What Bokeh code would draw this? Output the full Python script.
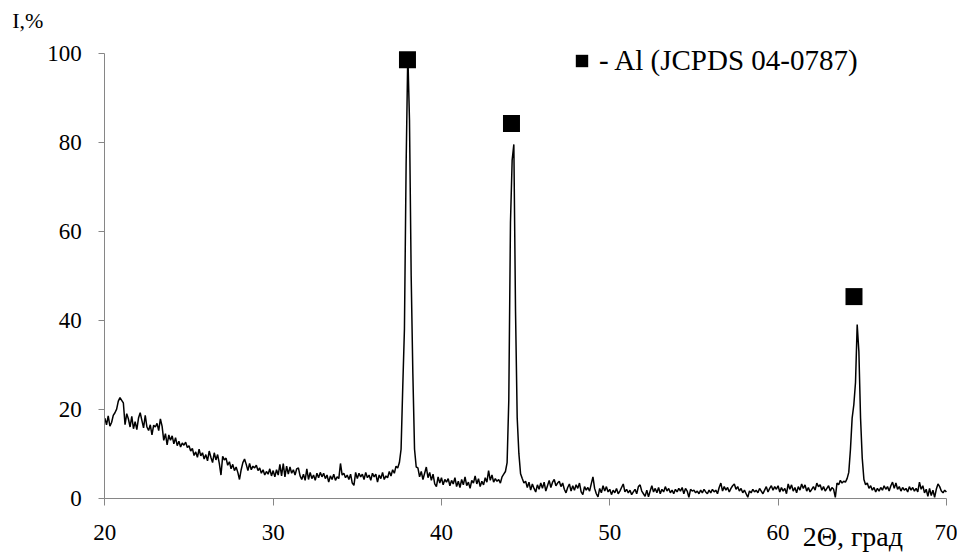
from bokeh.plotting import figure
from bokeh.models import Range1d, Label, Legend, LegendItem, FixedTicker, LinearAxis
from bokeh.embed import file_html
from bokeh.resources import INLINE

# ---- data ----
TWO_THETA_START = 20.0   # first 2Theta of the scan, degrees
TWO_THETA_STEP = 0.1     # scan step, degrees

intensity = [
    18.0, 16.5, 18.5, 16.2, 17.0, 18.6, 19.2, 20.0, 21.8, 22.6,   # 20
    22.0, 21.4, 16.5, 19.0, 17.8, 16.0, 18.4, 15.6, 17.2, 15.4,   # 21
    18.0, 19.2, 17.5, 15.8, 18.6, 16.0, 15.2, 16.5, 14.2, 16.4,   # 22
    16.0, 16.8, 15.2, 17.8, 16.2, 13.0, 14.5, 12.0, 14.2, 13.0,   # 23
    14.0, 12.2, 13.6, 11.8, 12.8, 11.5, 12.4, 11.9, 12.6, 11.4,   # 24
    11.8, 10.6, 11.2, 9.6, 10.4, 9.2, 11.0, 9.5, 10.2, 8.8,       # 25
    9.8, 8.4, 10.6, 9.2, 8.0, 10.2, 8.6, 9.8, 7.8, 5.2,           # 26
    9.4, 8.6, 9.0, 7.4, 8.2, 6.6, 7.6, 6.2, 7.0, 5.8,             # 27
    4.2, 6.4, 8.0, 8.8, 7.6, 6.2, 7.8, 6.4, 7.2, 6.8,             # 28
    7.4, 6.2, 6.8, 5.6, 6.4, 5.2, 6.0, 5.4, 6.6, 5.0,             # 29
    6.2, 4.8, 6.4, 5.2, 7.6, 5.0, 7.8, 4.8, 7.2, 5.4,             # 30
    7.0, 5.6, 6.4, 5.2, 6.6, 6.8, 5.0, 4.2, 5.4, 4.0,             # 31
    6.6, 4.2, 5.8, 4.4, 5.2, 4.0, 5.6, 4.6, 5.8, 4.8,             # 32
    5.6, 4.4, 5.2, 3.6, 5.0, 4.2, 5.4, 4.0, 4.8, 4.4,             # 33
    7.8, 5.2, 5.6, 4.6, 5.2, 4.2, 5.4, 3.4, 2.9, 5.8,             # 34
    4.4, 5.6, 4.8, 5.4, 4.2, 5.8, 4.6, 5.2, 4.0, 5.6,             # 35
    4.8, 5.4, 3.6, 5.2, 4.4, 5.8, 4.2, 5.0, 4.6, 6.0,             # 36
    5.0, 6.4, 5.6, 7.2, 6.8, 8.0, 11.0, 25.0, 38.0, 75.0,         # 37
    100.0, 85.0, 50.0, 28.0, 11.0, 7.0, 6.8, 4.8, 6.0, 4.2,       # 38
    5.6, 7.0, 4.6, 5.8, 4.0, 5.4, 3.2, 2.6, 4.8, 3.4,             # 39
    4.6, 3.0, 4.2, 3.6, 4.4, 2.8, 4.0, 3.2, 4.6, 2.6,             # 40
    3.8, 2.4, 4.2, 3.0, 4.8, 2.8, 3.6, 2.2, 4.0, 3.4,             # 41
    5.0, 3.2, 4.4, 2.6, 3.8, 3.0, 4.6, 3.6, 6.2, 4.0,             # 42
    5.2, 3.6, 4.4, 3.8, 4.2, 3.4, 4.8, 5.4, 6.0, 8.0,             # 43
    22.0, 62.0, 76.0, 79.5, 42.0, 18.0, 10.0, 5.5, 4.4, 3.4,      # 44
    3.8, 2.4, 3.6, 1.8, 3.2, 2.2, 1.4, 3.0, 2.0, 3.4,             # 45
    2.2, 3.6, 1.6, 2.8, 4.0, 2.4, 3.6, 4.2, 2.8, 3.4,             # 46
    3.8, 2.6, 3.4, 2.0, 1.2, 2.4, 3.2, 1.6, 2.8, 1.8,             # 47
    3.0, 2.2, 3.4, 1.4, 0.8, 2.6, 1.8, 2.4, 1.6, 3.2,             # 48
    4.8, 2.2, 1.0, 0.3, 2.2, 1.2, 2.8, 1.6, 2.6, 1.4,             # 49
    2.0, 0.8, 1.8, 1.2, 2.2, 1.0, 1.6, 2.4, 3.2, 1.4,             # 50
    2.0, 1.2, 1.8, 0.8, 1.4, 2.0, 1.0, 2.6, 3.0, 1.6,             # 51
    1.0, 0.4, 1.8, 0.3, 1.6, 2.8, 1.4, 2.2, 1.2, 2.4,             # 52
    1.0, 2.0, 1.4, 2.6, 1.6, 2.2, 1.2, 1.8, 1.0, 2.0,             # 53
    1.4, 2.2, 1.6, 2.4, 1.0, 2.2, 1.6, 0.2, 2.0, 1.6,             # 54
    1.8, 1.2, 1.6, 1.0, 1.8, 1.2, 2.0, 1.4, 1.0, 1.8,             # 55
    1.2, 2.0, 1.4, 1.8, 1.0, 2.4, 3.4, 1.6, 2.6, 1.8,             # 56
    2.4, 1.4, 2.2, 2.8, 3.2, 2.0, 2.6, 1.6, 2.2, 1.2,             # 57
    1.8, 1.0, 0.2, 1.6, 1.2, 2.0, 1.4, 1.8, 1.2, 2.2,             # 58
    1.6, 1.0, 1.8, 2.6, 1.4, 2.2, 2.8, 1.8, 2.6, 2.0,             # 59
    2.8, 1.4, 2.4, 1.6, 2.2, 1.0, 3.2, 2.0, 3.0, 1.6,             # 60
    2.4, 1.2, 2.6, 1.8, 3.2, 2.2, 3.0, 1.6, 2.4, 1.4,             # 61
    2.0, 2.6, 1.8, 3.4, 2.6, 3.0, 1.8, 2.6, 1.6, 2.2,             # 62
    2.8, 1.6, 2.4, 2.0, 0.2, 3.4, 3.0, 4.0, 3.4, 3.8,             # 63
    3.6, 4.4, 5.8, 11.0, 18.0, 21.0, 26.0, 39.0, 33.0, 18.0,      # 64
    9.0, 4.2, 3.0, 3.4, 2.2, 2.8, 1.8, 2.4, 1.4, 2.2,             # 65
    1.6, 2.4, 1.8, 2.8, 2.0, 2.6, 1.6, 2.8, 3.6, 2.2,             # 66
    3.4, 2.0, 2.6, 1.6, 2.4, 1.8, 2.2, 1.4, 2.6, 1.8,             # 67
    2.4, 1.6, 2.2, 1.4, 3.6, 2.0, 2.8, 1.2, 2.0, 0.4,             # 68
    2.2, 0.6, 1.8, 0.2, 2.0, 3.2, 2.6, 1.6, 1.2, 1.8,             # 69
    1.4,                                                          # 70
]
two_theta = [round(TWO_THETA_START + i * TWO_THETA_STEP, 1) for i in range(len(intensity))]

# Al reflection markers (JCPDS 04-0787)
al_two_theta = [37.98, 44.16, 64.51]
al_marker_i = [98.5, 84.2, 45.3]

x_ticks = [20, 30, 40, 50, 60, 70]
y_ticks = [0, 20, 40, 60, 80, 100]

legend_text = "- Al (JCPDS 04-0787)"
x_title = "2\u0398, град"
y_title = "I,%"

SERIF = "Liberation Serif"
AXIS_GREY = "#868686"

# The frame fills the whole canvas; the axes sit at fixed data locations
# so that the titles outside the data area can be drawn as plain labels.
p = figure(width=957, height=553, output_backend="svg", toolbar_location=None,
           x_range=Range1d(13.80, 70.66), y_range=Range1d(-12.43, 111.84),
           x_axis_location=None, y_axis_location=None,
           min_border=0, min_border_left=0, min_border_right=0,
           min_border_top=0, min_border_bottom=0)
p.outline_line_color = None
p.background_fill_color = "white"
p.border_fill_color = "white"
p.grid.visible = False
p.xgrid.visible = False
p.ygrid.visible = False

p.line(two_theta, intensity, line_color="black", line_width=1.5)
sq = p.scatter(al_two_theta, al_marker_i, marker="square", size=17,
               fill_color="black", line_color=None)

def style_axis(ax, ticks):
    ax.ticker = FixedTicker(ticks=ticks)
    ax.axis_line_color = AXIS_GREY
    ax.axis_line_width = 1
    ax.major_tick_line_color = AXIS_GREY
    ax.minor_tick_line_color = None
    ax.major_tick_in = 0
    ax.major_label_text_font = SERIF
    ax.major_label_text_font_size = "23px"
    ax.major_label_text_color = "black"

xaxis = LinearAxis(fixed_location=y_ticks[0], bounds=(x_ticks[0], x_ticks[-1]))
style_axis(xaxis, x_ticks)
xaxis.major_tick_out = 7
xaxis.major_label_standoff = 20
p.add_layout(xaxis, "below")

yaxis = LinearAxis(fixed_location=x_ticks[0], bounds=(y_ticks[0], y_ticks[-1]))
style_axis(yaxis, y_ticks)
yaxis.major_tick_out = 6
yaxis.major_label_standoff = 17
p.add_layout(yaxis, "left")

p.add_layout(Label(x=14.5, y=107.4, text=y_title, text_align="left",
                   text_baseline="alphabetic", text_font=SERIF,
                   text_font_size="22px", text_color="black"))
p.add_layout(Label(x=61.46, y=-8.6, text=x_title, text_align="left",
                   text_baseline="alphabetic", text_font=SERIF,
                   text_font_size="28px", text_color="black"))

legend = Legend(items=[LegendItem(label=legend_text, renderers=[sq])],
                location=(566, 476), padding=0, margin=0, spacing=0,
                border_line_color=None, background_fill_alpha=0,
                glyph_width=31, glyph_height=31, label_standoff=2,
                label_text_font=SERIF, label_text_font_size="29px",
                label_text_color="black")
p.add_layout(legend)

open("out.html", "w").write(file_html(p, INLINE))
